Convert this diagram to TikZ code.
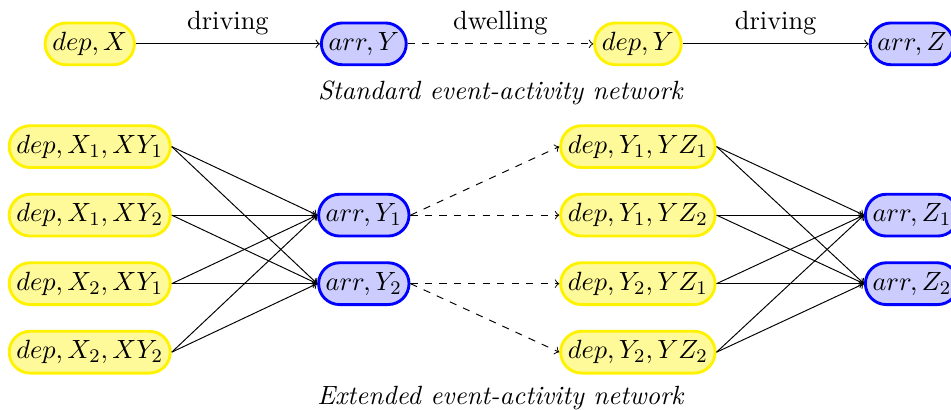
\documentclass[tikz,border=0pt,11pt]{standalone}
\usepackage{amsmath}
\usepackage{tikz}
\usetikzlibrary{arrows,shapes.misc}

\begin{document}
\begin{tikzpicture}[>=to]
			\tikzstyle{dep}=[rounded rectangle, very thick, draw=yellow, fill=yellow!40, inner xsep=1.5pt, minimum height=0.61cm]
			\tikzstyle{arr}=[rounded rectangle, very thick, draw=blue, fill=blue!20, inner xsep=1.5pt, minimum height=0.61cm]
			\tikzstyle{drive}=[->]
			\tikzstyle{dwell}=[->, dashed]

			\useasboundingbox (-1.31,0.64) rectangle (12.57,-5.33);

			% standard network
			\node (dX) [dep] at (0,0) {$dep, X$};
			\node (aY) [arr] at (4,0) {$arr, Y$};
			\node (dY) [dep] at (8,0) {$dep, Y$};
			\node (aZ) [arr] at (12,0) {$arr, Z$};

			\draw [drive] (dX.east) -- (aY.west) node[midway, above] {driving};
			\draw [dwell] (aY.east) -- (dY.west) node[midway, above] {dwelling};
			\draw [drive] (dY.east) -- (aZ.west) node[midway, above] {driving};

			\node (cap1) at (6,-0.72) {\textit{Standard event-activity network}};

			% extended network
			\node (dX11) [dep] at (0,-1.5) {$dep, X_1, XY_1$};
			\node (dX12) [dep] at (0,-2.5) {$dep, X_1, XY_2$};
			\node (dX21) [dep] at (0,-3.5) {$dep, X_2, XY_1$};
			\node (dX22) [dep] at (0,-4.5) {$dep, X_2, XY_2$};

			\node (aY1) [arr] at (4,-2.5) {$arr, Y_1$};
			\node (aY2) [arr] at (4,-3.5) {$arr, Y_2$};

			\node (dY11) [dep] at (8,-1.5) {$dep, Y_1, YZ_1$};
			\node (dY12) [dep] at (8,-2.5) {$dep, Y_1, YZ_2$};
			\node (dY21) [dep] at (8,-3.5) {$dep, Y_2, YZ_1$};
			\node (dY22) [dep] at (8,-4.5) {$dep, Y_2, YZ_2$};

			\node (aZ1) [arr] at (12,-2.5) {$arr, Z_1$};
			\node (aZ2) [arr] at (12,-3.5) {$arr, Z_2$};

			\foreach \s in {dX11,dX12,dX21,dX22}
				\foreach \t in {aY1,aY2}
					\draw [drive] (\s.east) -- (\t.west);

			\draw [dwell] (aY1.east) -- (dY11.west);
			\draw [dwell] (aY1.east) -- (dY12.west);
			\draw [dwell] (aY2.east) -- (dY21.west);
			\draw [dwell] (aY2.east) -- (dY22.west);

			\foreach \s in {dY11,dY12,dY21,dY22}
				\foreach \t in {aZ1,aZ2}
					\draw [drive] (\s.east) -- (\t.west);

			\node (cap2) at (6,-5.17) {\textit{Extended event-activity network}};
		\end{tikzpicture}
\end{document}
